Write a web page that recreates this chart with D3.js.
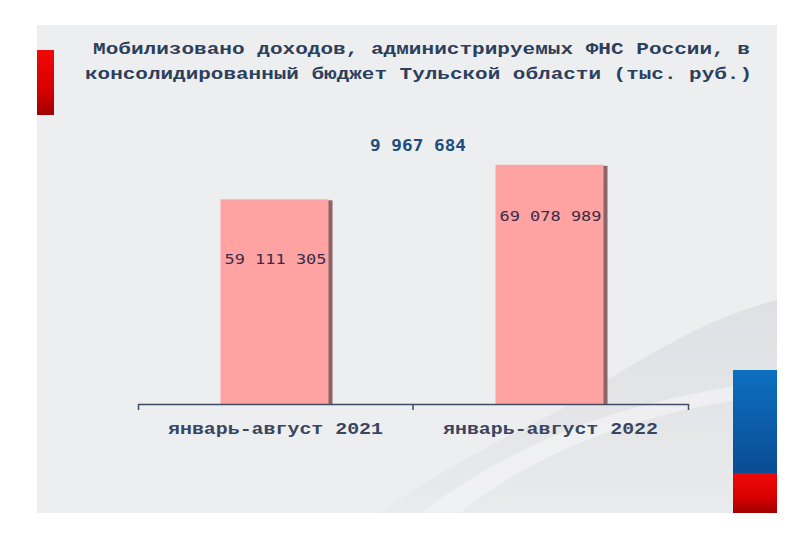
<!DOCTYPE html>
<html>
<head>
<meta charset="utf-8">
<script src="https://cdn.jsdelivr.net/npm/d3@7"></script>
<style>
  body { margin: 0; background: #fff; }
  svg { display: block; }
</style>
</head>
<body>
<svg id="chart"></svg>
<script>
// data
const categories = ["январь-август 2021", "январь-август 2022"];
const values = [59111305, 69078989];
const valueLabels = ["59 111 305", "69 078 989"];
const diffLabel = "9 967 684";
const titleLines = [
  "Мобилизовано доходов, администрируемых ФНС России, в",
  "консолидированный бюджет Тульской области (тыс. руб.)"
];

const width = 800;
const height = 533;

const svg = d3.select("#chart")
  .attr("width", width)
  .attr("height", height);

const defs = svg.append("defs");

// gradients for the decoration bars
const redGrad = defs.append("linearGradient")
  .attr("id", "redGrad").attr("x1", 0).attr("y1", 0).attr("x2", 0).attr("y2", 1);
redGrad.append("stop").attr("offset", "0%").attr("stop-color", "#f00808");
redGrad.append("stop").attr("offset", "60%").attr("stop-color", "#d80000");
redGrad.append("stop").attr("offset", "100%").attr("stop-color", "#a00000");

const blueGrad = defs.append("linearGradient")
  .attr("id", "blueGrad").attr("x1", 0).attr("y1", 0).attr("x2", 0).attr("y2", 1);
blueGrad.append("stop").attr("offset", "0%").attr("stop-color", "#0d6fc0");
blueGrad.append("stop").attr("offset", "100%").attr("stop-color", "#0a4c94");

const shade = defs.append("linearGradient")
  .attr("id", "shade").attr("x1", 0).attr("y1", 0).attr("x2", 0).attr("y2", 1);
shade.append("stop").attr("offset", "0%").attr("stop-color", "#d8dadd").attr("stop-opacity", 0.7);
shade.append("stop").attr("offset", "100%").attr("stop-color", "#d8dadd").attr("stop-opacity", 0.2);

// grey panel
svg.append("rect")
  .attr("x", 37).attr("y", 25)
  .attr("width", 740).attr("height", 488)
  .attr("fill", "#edeef0");

// faint darker swoosh in the lower right
svg.append("path")
  .attr("d", "M560,410 C640,360 700,320 777,300 L777,513 L380,513 C440,470 500,440 560,410 Z")
  .attr("fill", "url(#shade)");
svg.append("path")
  .attr("d", "M420,513 C520,440 620,400 777,380 L777,395 C640,410 540,450 460,513 Z")
  .attr("fill", "#f3f4f5")
  .attr("opacity", 0.7);

// left red marker
svg.append("rect")
  .attr("x", 37).attr("y", 50)
  .attr("width", 17).attr("height", 65)
  .attr("fill", "url(#redGrad)");

// right flag
svg.append("rect")
  .attr("x", 733).attr("y", 370)
  .attr("width", 44).attr("height", 103)
  .attr("fill", "url(#blueGrad)");
svg.append("rect")
  .attr("x", 733).attr("y", 473)
  .attr("width", 44).attr("height", 40)
  .attr("fill", "url(#redGrad)");

// title
svg.append("g")
  .selectAll("text")
  .data(titleLines)
  .join("text")
  .attr("x", (d, i) => i === 0 ? 93 : 85)
  .attr("y", (d, i) => 54 + i * 25)
  .attr("textLength", (d, i) => i === 0 ? 657 : 667)
  .attr("lengthAdjust", "spacingAndGlyphs")
  .attr("font-family", "Liberation Mono, DejaVu Sans Mono, monospace")
  .attr("font-weight", "bold")
  .attr("font-size", 17)
  .attr("fill", "#2c3f5c")
  .text(d => d);

// scales
const x = d3.scaleBand()
  .domain(categories)
  .range([138, 688])
  .paddingInner(0.6)
  .paddingOuter(0.3);

const y = d3.scaleLinear()
  .domain([0, 80000000])
  .range([404, 127]);

// bars with a dark right-hand shadow
const bars = svg.append("g");
bars.selectAll("rect.shadow")
  .data(values)
  .join("rect")
  .attr("class", "shadow")
  .attr("x", (d, i) => x(categories[i]) + 2)
  .attr("y", d => y(d) + 1)
  .attr("width", x.bandwidth())
  .attr("height", d => y(0) - y(d) - 1)
  .attr("fill", "#8a6466");
bars.selectAll("rect.bar")
  .data(values)
  .join("rect")
  .attr("class", "bar")
  .attr("x", (d, i) => x(categories[i]))
  .attr("y", d => y(d))
  .attr("width", x.bandwidth() - 2)
  .attr("height", d => y(0) - y(d))
  .attr("fill", "#ffa2a2");

// value labels inside bars
svg.append("g")
  .selectAll("text")
  .data(values)
  .join("text")
  .attr("x", (d, i) => x(categories[i]) + x.bandwidth() / 2)
  .attr("y", (d, i) => i === 0 ? y(d) + 65 : y(d) + 56)
  .attr("text-anchor", "middle")
  .attr("textLength", 102)
  .attr("lengthAdjust", "spacingAndGlyphs")
  .attr("font-family", "DejaVu Sans Mono, monospace")
  .attr("font-size", 14)
  .attr("fill", "#3a2c48")
  .text((d, i) => valueLabels[i]);

// difference label
svg.append("text")
  .attr("x", 418)
  .attr("y", 151)
  .attr("text-anchor", "middle")
  .attr("textLength", 96)
  .attr("lengthAdjust", "spacingAndGlyphs")
  .attr("font-family", "DejaVu Sans Mono, monospace")
  .attr("font-weight", "bold")
  .attr("font-size", 15)
  .attr("fill", "#1f4e7a")
  .text(diffLabel);

// x axis
const xAxis = d3.axisBottom(x)
  .tickSizeInner(0)
  .tickSizeOuter(6)
  .tickPadding(18);

const axisG = svg.append("g")
  .attr("transform", `translate(0,${y(0)})`)
  .call(xAxis);

axisG.select(".domain")
  .attr("stroke", "#3e4c66")
  .attr("stroke-width", 1.5);

// separator tick between the two categories
const midX = (x(categories[0]) + x.bandwidth() + x(categories[1])) / 2;
axisG.append("line")
  .attr("x1", midX).attr("x2", midX)
  .attr("y1", 0).attr("y2", 6)
  .attr("stroke", "#3e4c66")
  .attr("stroke-width", 1.5);

axisG.selectAll(".tick text")
  .attr("font-family", "Liberation Mono, DejaVu Sans Mono, monospace")
  .attr("font-weight", "bold")
  .attr("font-size", 17)
  .attr("fill", "#3a4660")
  .attr("textLength", 215)
  .attr("lengthAdjust", "spacingAndGlyphs");
</script>
</body>
</html>
